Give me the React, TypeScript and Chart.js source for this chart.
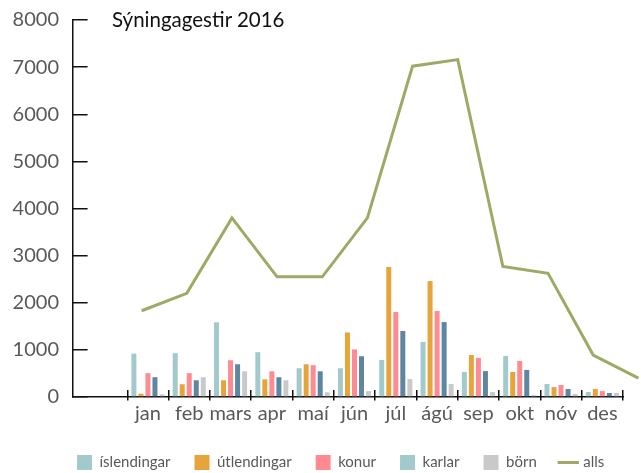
import React, { useEffect, useRef } from 'react';
import { Chart, registerables } from 'chart.js';

Chart.register(...registerables);

const titleText = 'Sýningagestir 2016';
const months = ['jan', 'feb', 'mars', 'apr', 'maí', 'jún', 'júl', 'ágú', 'sep', 'okt', 'nóv', 'des'];
const islendingar = [920, 930, 1585, 950, 610, 610, 785, 1170, 530, 870, 275, 105];
const utlendingar = [70, 270, 355, 375, 695, 1370, 2760, 2460, 890, 530, 210, 170];
const konur = [505, 505, 780, 545, 675, 1010, 1805, 1825, 830, 765, 255, 125];
const karlar = [420, 355, 695, 420, 545, 865, 1400, 1590, 550, 575, 170, 85];
const born = [55, 420, 545, 355, 100, 125, 380, 275, 105, 40, 65, 85];
const alls = [1830, 2200, 3800, 2550, 2550, 3800, 7020, 7160, 2770, 2625, 890, 400];
const yTicks = [0, 1000, 2000, 3000, 4000, 5000, 6000, 7000, 8000];
const seriesNames = ['íslendingar', 'útlendingar', 'konur', 'karlar', 'börn', 'alls'];

const colors = ['#a2c9cb', '#e6a43b', '#ff8a92', '#5e86a1', '#c9c9c9', '#9bab65'];
const legendColors = ['#a2c9cb', '#e6a43b', '#ff8a92', '#a2c9cb', '#c9c9c9', '#9bab65'];

const FONT = 'Lato';
const TEXT = '#595959';

const xMin = -1.814;
const xMax = months.length - 0.5;
const lMin = -1.52;
const lMax = 10.66;

export default function App() {
  const ref = useRef<HTMLCanvasElement>(null);

  useEffect(() => {
    if (!ref.current) return;
    const bars = [islendingar, utlendingar, konur, karlar, born];
    const centres = months.map((_, i) => i);
    const bounds = Array.from({ length: months.length + 1 }, (_, i) => i - 0.5);

    const chart = new Chart(ref.current, {
      type: 'bar',
      data: {
        datasets: [
          ...bars.map((arr, k) => ({
            type: 'bar' as const,
            indexAxis: 'x' as const,
            label: seriesNames[k],
            data: arr.map((v, i) => ({ x: i, y: v })),
            backgroundColor: colors[k],
            borderWidth: 0,
            categoryPercentage: 0.85,
            barPercentage: 0.71,
            xAxisID: 'x',
            yAxisID: 'y',
          })),
          {
            type: 'line' as const,
            indexAxis: 'x' as const,
            label: seriesNames[5],
            data: alls.map((v, i) => ({ x: i, y: v })),
            borderColor: colors[5],
            backgroundColor: colors[5],
            borderWidth: 3,
            pointRadius: 0,
            tension: 0,
            clip: false as any,
            xAxisID: 'x2',
            yAxisID: 'y',
          },
        ],
      },
      options: {
        indexAxis: 'y',
        animation: false,
        responsive: true,
        maintainAspectRatio: false,
        layout: { padding: { top: 20, right: -30.3, bottom: -7, left: 10 } },
        plugins: {
          tooltip: { enabled: false },
          title: { display: false },
          legend: {
            position: 'bottom',
            fullSize: true,
            labels: {
              usePointStyle: true,
              boxWidth: 15,
              boxHeight: 15,
              padding: 24,
              color: TEXT,
              font: { family: FONT, size: 15 },
              generateLabels: (c: any) => {
                const items = Chart.defaults.plugins.legend.labels.generateLabels(c);
                items.forEach((it: any) => {
                  const idx = it.datasetIndex;
                  if (idx === 5) {
                    it.pointStyle = 'line';
                    it.lineWidth = 3;
                    it.strokeStyle = legendColors[idx];
                  } else {
                    it.pointStyle = 'rect';
                    it.lineWidth = 0;
                    it.fillStyle = legendColors[idx];
                    it.strokeStyle = legendColors[idx];
                  }
                });
                return items;
              },
            },
          },
        },
        scales: {
          xt: {
            type: 'linear', position: 'bottom', weight: 0, min: xMin, max: xMax, offset: false,
            afterBuildTicks: (s: any) => { s.ticks = bounds.map((v) => ({ value: v })); },
            afterFit: (s: any) => { s.height = 0; },
            ticks: { display: false },
            border: { display: false },
            grid: { offset: false, drawOnChartArea: false, drawTicks: true, tickLength: -7, color: '#111', lineWidth: 1.5 },
          },
          xb: {
            type: 'linear', position: 'bottom', weight: 1, min: xMin, max: xMax, offset: false,
            afterBuildTicks: (s: any) => { s.ticks = bounds.map((v) => ({ value: v })); },
            afterFit: (s: any) => { s.height = 0; },
            ticks: { display: false },
            border: { display: false },
            grid: { offset: false, drawOnChartArea: false, drawTicks: true, tickLength: 3.5, color: '#111', lineWidth: 1.5 },
          },
          x: {
            type: 'linear', position: 'bottom', weight: 2, min: xMin, max: xMax, offset: false,
            afterBuildTicks: (s: any) => { s.ticks = centres.map((v) => ({ value: v })); },
            afterFit: (s: any) => { s.height = 34; },
            ticks: {
              autoSkip: false, maxRotation: 0, padding: 5, color: TEXT,
              font: { family: FONT, size: 20 },
              callback: (v: any) => months[Math.round(Number(v))] ?? '',
            },
            border: { display: true, color: '#111', width: 1.5 },
            grid: { offset: false, display: false, drawTicks: false },
          },
          x2: { type: 'linear', display: false, min: lMin, max: lMax, offset: false },
          y: {
            type: 'linear', position: 'left', min: 0, max: 8000, offset: false,
            afterBuildTicks: (s: any) => { s.ticks = yTicks.map((v) => ({ value: v })); },
            afterFit: (s: any) => { s.width = 63; s.paddingTop = 12; s.paddingBottom = 12; },
            ticks: { padding: 28.6, color: TEXT, font: { family: FONT, size: 20 }, callback: (v: any) => String(v) },
            border: { display: true, color: '#111', width: 1.5 },
            grid: { offset: false, drawOnChartArea: false, drawTicks: true, tickLength: -14.6, color: '#111', lineWidth: 1.5 },
          },
          yr: {
            type: 'linear', position: 'right', min: 0, max: 1, offset: false,
            afterFit: (s: any) => { s.width = 48.3; },
            ticks: { display: false },
            border: { display: false },
            grid: { display: false, drawTicks: false },
          },
        },
      } as any,
    });
    return () => chart.destroy();
  }, []);

  return (
    <div style={{ position: 'absolute', left: 0, top: 0, width: 641, height: 473, background: '#fff' }}>
      <canvas ref={ref} />
      <div style={{ position: 'absolute', left: 112, top: 7, fontFamily: FONT, fontSize: 20.5, lineHeight: '24px', color: '#111', whiteSpace: 'nowrap' }}>
        {titleText}
      </div>
    </div>
  );
}
